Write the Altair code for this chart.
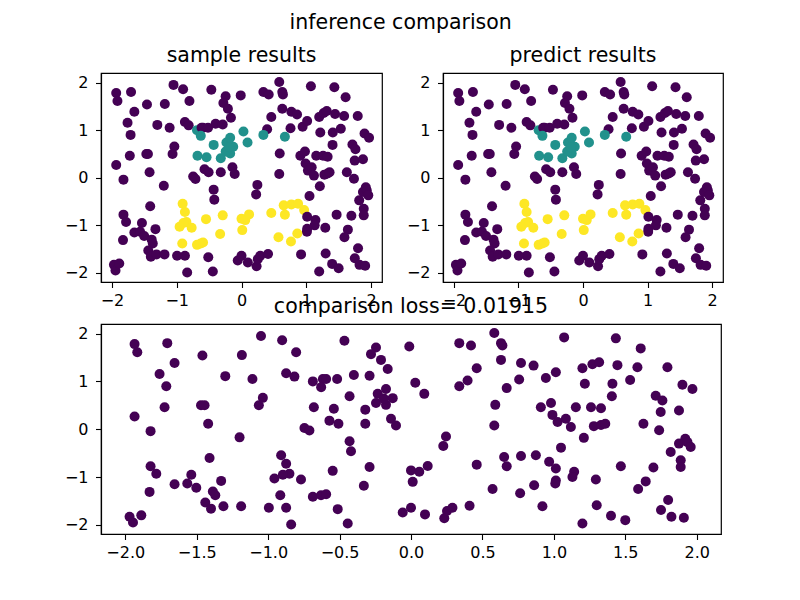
import altair as alt
import pandas as pd

xs = [-1.935, -1.916, -1.706, -1.655, -1.76, -1.713, -1.725, -1.935, -1.823, -1.46,
      -1.47, -1.445, -1.42, -1.30, -1.184, -1.11, -1.05, -1.037, -1.065, -0.902,
      -0.874, -1.20, -0.804, -0.816, -0.466, -0.245, -0.28, -0.21, -0.163, -0.012,
      -0.687, -0.617, -0.594, -0.629, -0.517, -0.40, -0.29, -0.43, -0.68, -0.54,
      -0.571, -0.508, -0.746, -0.711, -0.32, -0.32, -0.233, -0.175, -0.128, -0.175,
      -0.245, -0.19, -0.14, -0.105, 0.03, 0.093, 0.338, 0.42, 0.583, 0.63,
      0.64, 0.63, 0.46, 0.396, 0.338, 0.67, 0.59, 0.583, 0.245, -0.43,
      1.072, 1.434, 1.608, 0.77, 0.858, 0.757, 0.944, 1.014, 1.20, 1.27,
      1.317, 1.445, 1.585, 1.795, 1.534, 1.217, 1.41, 1.406, 1.90, 1.97,
      1.713, 1.76, 1.748, 1.876, 0.909, 0.98, 0.99, 1.026, 1.084, 1.119,
      1.154, 1.26, 1.33, 1.28, 1.33, 1.36, 1.627, 1.737, 1.21, 1.92,
      1.05, 0.652, 0.67, 0.77, 0.874, 0.967, 1.014, 1.142, 1.13, 1.014,
      1.01, 1.294, 1.469, 1.697, 1.818, 1.876, 1.935, 1.958, 1.888, 1.888,
      1.643, 1.59, 0.862, 0.764, 0.92, 1.30, 1.40, 1.50, 1.20, 1.80,
      1.75, 1.823, 1.91, -0.42, 0.226, -0.29, -0.548, -0.33, 0.0, 0.058,
      0.117, 0.012, 0.46, 0.571, -0.909, -0.874, -0.851, -0.897, -0.77, -0.956,
      -0.915, -0.874, -0.839, -0.687, -0.63, -0.594, -0.513, -0.443, -0.058, 0.0,
      0.098, 0.233, 0.252, 0.29, 0.41, -1.41, -1.823, -1.783, -1.655, -1.538,
      -1.566, -1.503, -1.329, -1.387, -1.37, -1.83, -1.44, -1.40, -1.313, -1.189,
      -1.97, -1.946, -1.888, -0.995]

ys = [1.78, 1.61, 1.80, 1.385, 1.156, 0.90, 0.46, 0.267, -0.04, 1.54,
      0.50, 0.50, 0.115, 1.11, 1.55, 1.05, 1.95, 0.656, 0.50, 1.86,
      1.17, -0.17, 1.61, 1.10, 1.85, 1.71, 1.57, 1.45, 1.26, 1.73,
      1.0, 1.05, 1.05, 0.88, 1.05, 1.135, 1.12, 0.69, 0.46, 0.43,
      0.18, 0.115, 0.025, -0.025, 0.41, 0.115, 0.74, 0.84, 0.65, 0.51,
      0.55, 0.64, 0.22, 0.08, 0.97, 0.74, 1.80, 1.75, 2.01, 1.80,
      1.75, 1.45, 1.275, 1.02, 0.90, 0.86, 0.51, 0.08, -0.15, -0.25,
      1.92, 1.90, 1.69, 1.385, 1.33, 1.04, 1.07, 1.19, 1.275, 1.36,
      1.40, 1.34, 1.295, 1.295, 1.03, 0.95, 0.95, 0.69, 0.93, 0.84,
      0.70, 0.60, 0.36, 0.39, 0.46, 0.55, 0.30, 0.15, 0.22, 0.045,
      0.46, 0.46, 0.44, 0.065, 0.09, 0.115, 0.115, -0.02, -0.18, -0.2,
      -0.385, -0.58, -0.775, -0.56, -0.545, -0.68, -0.82, -0.89, -1.0, -1.07,
      -1.135, -1.05, -0.775, -0.80, -0.475, -0.30, -0.27, -0.37, -0.65, -0.79,
      -1.09, -1.25, -1.17, -1.34, -1.61, -1.59, -1.81, -1.90, -1.97, -1.48,
      -1.69, -1.83, -1.85, -0.46, -0.35, -0.79, -0.87, -1.18, -0.86, -0.89,
      -0.77, -1.10, -0.74, -1.25, -0.545, -0.72, -0.93, -0.95, -1.05, -1.03,
      -1.38, -1.64, -1.99, -1.41, -1.38, -1.36, -1.67, -1.97, -1.74, -1.64,
      -1.78, -1.86, -1.71, -1.64, -1.60, -0.60, -0.775, -0.93, -1.15, -0.95,
      -1.135, -1.225, -1.08, -1.30, -1.38, -1.31, -1.53, -1.66, -1.61, -1.61,
      -1.83, -1.95, -1.80, -1.64]

labels = [0, 0, 0, 0, 0, 0, 0, 0, 0, 0,
          0, 0, 0, 0, 0, 0, 0, 0, 0, 0,
          0, 0, 0, 0, 0, 0, 0, 0, 0, 0,
          1, 0, 0, 1, 0, 0, 0, 1, 1, 1,
          0, 0, 0, 0, 1, 0, 1, 1, 1, 1,
          1, 1, 0, 0, 1, 1, 0, 0, 0, 0,
          0, 0, 0, 0, 1, 1, 0, 0, 0, 0,
          0, 0, 0, 0, 0, 0, 0, 0, 0, 0,
          0, 0, 0, 0, 0, 0, 0, 0, 0, 0,
          0, 0, 0, 0, 0, 0, 0, 0, 0, 0,
          0, 0, 0, 0, 0, 0, 0, 0, 0, 0,
          0, 2, 2, 2, 2, 2, 0, 0, 0, 0,
          0, 0, 0, 0, 0, 0, 0, 0, 0, 0,
          0, 0, 2, 2, 0, 0, 0, 0, 0, 0,
          0, 0, 0, 0, 0, 2, 2, 2, 2, 2,
          2, 2, 2, 2, 2, 2, 2, 2, 2, 2,
          2, 0, 0, 2, 2, 2, 0, 0, 0, 0,
          0, 0, 0, 0, 0, 0, 0, 0, 0, 0,
          0, 0, 0, 0, 0, 0, 0, 0, 0, 0,
          0, 0, 0, 0]

top_x_ticks = [-2, -1, 0, 1, 2]
bottom_x_ticks = [-2.0, -1.5, -1.0, -0.5, 0.0, 0.5, 1.0, 1.5, 2.0]
y_ticks = [-2, -1, 0, 1, 2]
class_colors = ["#440154", "#21918c", "#fde725"]

df = pd.DataFrame({"x": xs, "y": ys, "label": labels})

FONT = "DejaVu Sans"
XDOM = [-2.17, 2.17]
YDOM = [-2.19, 2.2]
TITLE_SIZE = 20.5


def panel(title, w, h, by_label, xticks, xfmt):
    if by_label:
        color = alt.Color("label:O", scale=alt.Scale(domain=[0, 1, 2], range=class_colors), legend=None)
    else:
        color = alt.value(class_colors[0])
    return alt.Chart(df).mark_circle(size=100, opacity=1).encode(
        x=alt.X("x:Q", scale=alt.Scale(domain=XDOM, nice=False, zero=False),
                axis=alt.Axis(values=xticks, format=xfmt, title=None)),
        y=alt.Y("y:Q", scale=alt.Scale(domain=YDOM, nice=False, zero=False),
                axis=alt.Axis(values=y_ticks, format="d", title=None)),
        color=color,
    ).properties(
        width=w, height=h,
        title=alt.TitleParams(title, font=FONT, fontSize=TITLE_SIZE, fontWeight="normal",
                              color="black", offset=-9.5, baseline="alphabetic"),
    )


tl = panel("sample results", 281, 209, True, top_x_ticks, "d")
tr = panel("predict results", 280, 209, True, top_x_ticks, "d")
bottom = panel("comparison loss= 0.01915", 620, 210, False, bottom_x_ticks, ".1f")

top = alt.hconcat(tl, tr, spacing=22)
chart = alt.vconcat(
    top, bottom, spacing=-13,
    title=alt.TitleParams("inference comparison", font=FONT, fontSize=TITLE_SIZE, fontWeight="normal",
                          color="black", anchor="middle", offset=12, dx=7),
    padding={"left": 55, "top": 4, "right": 5, "bottom": 5},
).configure_view(
    stroke="black", strokeWidth=1.2
).configure_axis(
    grid=False, domainColor="black", domainWidth=1.2, tickColor="black", tickWidth=1.1,
    tickSize=5.5, labelFont=FONT, labelFontSize=16, labelColor="black",
).configure_axisX(
    labelPadding=4.5
).configure_axisY(
    labelPadding=7.5
)

chart.save("out.html", embed_options={"renderer": "svg", "actions": False})
